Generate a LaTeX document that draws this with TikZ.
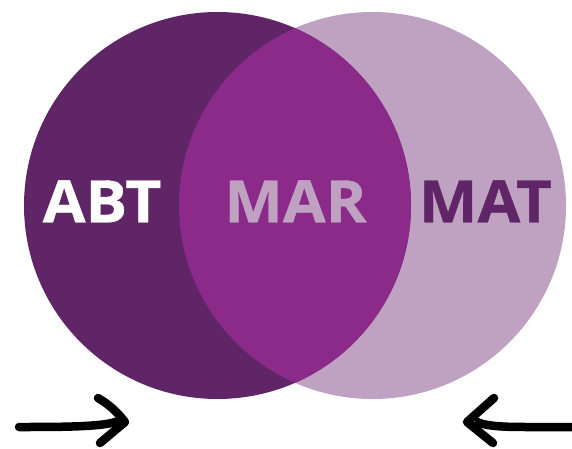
\documentclass[tikz,border=0pt]{standalone}
\usepackage{fontspec}
\setmainfont{Open Sans}[BoldFeatures={FakeStretch=1.06,FakeBold=0.6}]
\definecolor{darkp}{HTML}{5F2566}
\definecolor{midp}{HTML}{8C2A8A}
\definecolor{lightp}{HTML}{BFA2C2}
\tikzset{lab/.style={inner sep=0pt,anchor=base,font=\fontsize{58.5}{58.5}\bfseries\selectfont},
 pen/.style={draw=black,line width=8.5pt,line cap=round,line join=round}}
\begin{document}
\begin{tikzpicture}[x=1pt,y=-1pt]
\useasboundingbox (0,0) rectangle (572,449);
\fill[white] (0,0) rectangle (572,449);
\coordinate (cl) at (217.5,205.5);
\coordinate (cr) at (372.5,205.5);
\fill[lightp] (cr) circle[radius=193.5pt];
\fill[darkp] (cl) circle[radius=193.5pt];
\begin{scope}
\clip (cl) circle[radius=193.5pt];
\fill[midp] (cr) circle[radius=193.5pt];
\end{scope}
\node[lab,text=white] (abt) at (102,222.3) {ABT};
\node[lab,text=lightp] (mar) at (295.5,222.3) {MAR};
\node[lab,text=darkp] (mat) at (485.5,222.3) {MAT};
\coordinate (a1) at (19,427);
\coordinate (a2) at (118,421);
\coordinate (a3) at (98,398);
\coordinate (a4) at (125,422);
\coordinate (a5) at (100,443);
\draw[pen] (a1) .. controls (60,427) and (105,427) .. (a2);
\draw[pen] (a3) .. controls (110,405) and (118,413) .. (a4) -- (a5);
\coordinate (b1) at (572,427);
\coordinate (b2) at (475,421);
\coordinate (b3) at (494,398);
\coordinate (b4) at (467,422);
\coordinate (b5) at (493,443);
\draw[pen,line cap=butt] (b1) -- (530,427) .. controls (510,427) and (485,427) .. (b2);
\draw[pen] (b3) -- (b4) -- (b5);
\end{tikzpicture}
\end{document}
